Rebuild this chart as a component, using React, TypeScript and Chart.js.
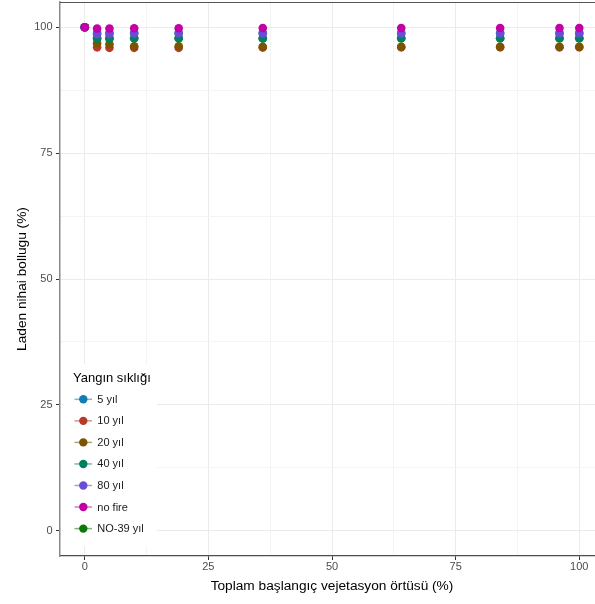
import React, { useEffect, useRef } from 'react';
import { Chart, registerables } from 'chart.js';

Chart.register(...registerables);

// ---- data ----
const xValues = [0, 2.5, 5, 10, 19, 36, 64, 84, 96, 100];
const seriesLabels = ['5 yıl', '10 yıl', '20 yıl', '40 yıl', '80 yıl', 'no fire', 'NO-39 yıl'];
const seriesColors = ['#127CB3', '#B83A2B', '#7D5300', '#00805E', '#6B4CD6', '#C200A6', '#0B7A0B'];
// drawing order (lower = on top)
const seriesOrder = [2, 6, 5, 3, 1, 0, 4];

const y5 = [100, 98.9, 98.9, 98.9, 98.9, 98.9, 98.9, 98.9, 98.9, 98.9];
const y10 = [100, 96.0, 95.9, 95.9, 95.9, 95.95, 96.0, 96.0, 96.0, 96.0];
const y20 = [100, 96.8, 96.6, 96.2, 96.2, 96.1, 96.1, 96.1, 96.1, 96.1];
const y40 = [100, 97.75, 97.75, 97.8, 97.8, 97.75, 97.8, 97.8, 97.8, 97.8];
const y80 = [100, 98.6, 98.65, 98.75, 98.75, 98.75, 98.75, 98.75, 98.75, 98.75];
const yNoFire = [100, 99.75, 99.75, 99.8, 99.8, 99.85, 99.85, 99.85, 99.85, 99.85];
const yNo39 = [100, 97.8, 97.8, 97.8, 97.8, 97.8, 97.8, 97.8, 97.8, 97.8];
const seriesValues = [y5, y10, y20, y40, y80, yNoFire, yNo39];

const xMajorTicks = [0, 25, 50, 75, 100];
const yMajorTicks = [0, 25, 50, 75, 100];
const gridValues = [0, 12.5, 25, 37.5, 50, 62.5, 75, 87.5, 100];

const legendTitle = 'Yangın sıklığı';
const xTitle = 'Toplam başlangıç vejetasyon örtüsü (%)';
const yTitle = 'Laden nihai bollugu (%)';

const FONT = '"Liberation Sans", Arial, sans-serif';

function hexToRgba(hex: string, a: number) {
  const n = parseInt(hex.slice(1), 16);
  return `rgba(${(n >> 16) & 255},${(n >> 8) & 255},${n & 255},${a})`;
}

const overlayPlugin = {
  id: 'overlay',
  afterDraw(chart: any) {
    const ctx = chart.ctx;
    const a = chart.chartArea;
    ctx.save();
    // panel border top / right
    ctx.strokeStyle = '#555555';
    ctx.lineWidth = 1;
    ctx.beginPath();
    ctx.moveTo(a.left, a.top + 0.5);
    ctx.lineTo(a.right, a.top + 0.5);
    ctx.moveTo(a.right - 0.5, a.top);
    ctx.lineTo(a.right - 0.5, a.bottom);
    ctx.stroke();

    // legend
    const boxLeft = a.left + 1;
    const boxTop = a.bottom - 192;
    ctx.fillStyle = '#ffffff';
    ctx.fillRect(boxLeft, boxTop, 96, 182);
    ctx.fillStyle = '#000000';
    ctx.font = `13px ${FONT}`;
    ctx.textBaseline = 'middle';
    ctx.textAlign = 'left';
    ctx.fillText(legendTitle, a.left + 13, a.bottom - 178);
    const ds = chart.data.datasets;
    for (let i = 0; i < ds.length; i++) {
      const y = a.bottom - 156.7 + i * 21.55;
      const c = seriesColors[i];
      ctx.strokeStyle = hexToRgba(c, 0.55);
      ctx.lineWidth = 1.5;
      ctx.beginPath();
      ctx.moveTo(a.left + 14.5, y);
      ctx.lineTo(a.left + 32, y);
      ctx.stroke();
      ctx.fillStyle = c;
      ctx.beginPath();
      ctx.arc(a.left + 23.3, y, 4.2, 0, Math.PI * 2);
      ctx.fill();
      ctx.fillStyle = '#1a1a1a';
      ctx.font = `11px ${FONT}`;
      ctx.fillText(ds[i].label, a.left + 37.3, y + 0.5);
    }
    ctx.restore();
  },
};

export default function App() {
  const ref = useRef<HTMLCanvasElement | null>(null);

  useEffect(() => {
    document.body.style.margin = '0';
    const canvas = ref.current;
    if (!canvas) return;
    Chart.defaults.font.family = FONT;

    const datasets = seriesLabels.map((label, i) => ({
      label,
      data: xValues.map((x, j) => ({ x, y: seriesValues[i][j] })),
      backgroundColor: seriesColors[i],
      borderColor: seriesColors[i],
      pointRadius: 4.3,
      pointBorderWidth: 0,
      pointHoverRadius: 4.3,
      showLine: false,
      order: seriesOrder[i],
    }));

    const gridColor = (ctx: any) =>
      ctx.tick && ctx.tick.value % 25 === 0 ? '#EBEBEB' : '#F4F4F4';
    const tickColor = (ctx: any) =>
      ctx.tick && ctx.tick.value % 25 === 0 ? '#333333' : 'rgba(0,0,0,0)';

    const chart = new Chart(canvas, {
      type: 'scatter',
      data: { datasets },
      plugins: [overlayPlugin],
      options: {
        animation: false,
        responsive: false,
        events: [],
        layout: { autoPadding: false, padding: { top: 2, right: 6, left: 0, bottom: 0 } },
        plugins: { legend: { display: false }, tooltip: { enabled: false } },
        scales: {
          x: {
            type: 'linear',
            min: -5,
            max: 105,
            afterBuildTicks: (s: any) => {
              s.ticks = gridValues.map((v) => ({ value: v }));
            },
            afterFit: (s: any) => {
              s.height = 48;
              s.paddingLeft = 0;
              s.paddingRight = 0;
            },
            ticks: {
              autoSkip: false,
              maxRotation: 0,
              padding: 0,
              color: '#4D4D4D',
              font: { size: 11 },
              callback: (v: any) => (xMajorTicks.includes(Number(v)) ? String(v) : ''),
            },
            grid: {
              color: gridColor,
              lineWidth: 1,
              tickLength: 4,
              tickColor,
              tickWidth: 1,
            },
            border: { display: true, color: '#4D4D4D', width: 1.3 },
            title: {
              display: true,
              text: xTitle,
              color: '#000000',
              font: { size: 13.7 },
              padding: { top: 0, bottom: 10 },
            },
          },
          y: {
            type: 'linear',
            min: -5,
            max: 105,
            afterBuildTicks: (s: any) => {
              s.ticks = gridValues.map((v) => ({ value: v }));
            },
            afterFit: (s: any) => {
              s.width = 60;
              s.paddingTop = 0;
              s.paddingBottom = 0;
            },
            ticks: {
              autoSkip: false,
              padding: 3.5,
              color: '#4D4D4D',
              font: { size: 11 },
              callback: (v: any) => (yMajorTicks.includes(Number(v)) ? String(v) : ''),
            },
            grid: {
              color: gridColor,
              lineWidth: 1,
              tickLength: 4,
              tickColor,
              tickWidth: 1,
            },
            border: { display: true, color: '#8A8A8A', width: 1.5 },
            title: {
              display: true,
              text: yTitle,
              color: '#000000',
              font: { size: 13.7 },
              padding: { top: 14.5, bottom: 0 },
            },
          },
        },
      },
    } as any);

    return () => chart.destroy();
  }, []);

  return (
    <div style={{ width: 595, height: 604, overflow: 'hidden' }}>
      <canvas ref={ref} width={610} height={604} style={{ display: 'block', width: 610, height: 604 }} />
    </div>
  );
}
